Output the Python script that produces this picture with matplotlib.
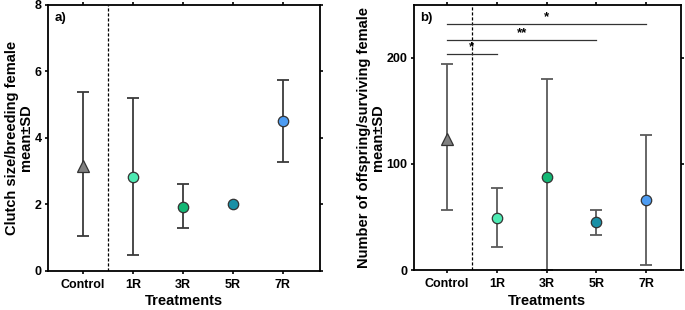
import numpy as np
import matplotlib
matplotlib.use("Agg")
import matplotlib.pyplot as plt

plt.rcParams['font.family'] = ['Liberation Sans', 'DejaVu Sans']
plt.rcParams['font.weight'] = 'bold'

groups = ["Control", "1R", "3R", "5R", "7R"]
colors = ["#808080", "#4deab2", "#12b774", "#1a90a6", "#4d9cf2"]

# panel a: clutch size per breeding female
clutch_mean = [3.15, 2.83, 1.93, 2.0, 4.5]
clutch_lo = [1.03, 0.47, 1.28, 2.0, 3.28]
clutch_hi = [5.37, 5.2, 2.6, 2.0, 5.73]

# panel b: offspring per surviving female
offs_mean = [124, 49.5, 87.5, 45, 66]
offs_lo = [56.5, 22, 0, 33, 5]
offs_hi = [194, 77, 180, 57, 127]

# significance brackets (from Control to group index, y, label)
sig_to = [4, 3, 1]
sig_y = [232, 217, 203.5]
sig_txt = ["*", "**", "*"]

fig = plt.figure(figsize=(6.85, 3.1), dpi=100)
ax1 = fig.add_axes([0.070, 0.127, 0.397, 0.857])
ax2 = fig.add_axes([0.604, 0.129, 0.390, 0.855])


def draw(ax, mean, lo, hi, errc):
    x = np.arange(len(groups))
    for i in range(len(groups)):
        if hi[i] > lo[i]:
            ax.errorbar(x[i], mean[i], yerr=[[mean[i] - lo[i]], [hi[i] - mean[i]]],
                        fmt='none', ecolor=errc, elinewidth=1.3, capsize=4.5,
                        capthick=1.3, zorder=2)
        mk = '^' if i == 0 else 'o'
        ax.plot(x[i], mean[i], marker=mk, markersize=9 if i == 0 else 7.5,
                color=colors[i], markeredgecolor='#333333', markeredgewidth=0.9,
                linestyle='none', zorder=3)
    ax.axvline(0.5, color='black', linestyle=(0, (2.5, 1.5)), linewidth=0.9, zorder=1)
    ax.set_xticks(x)
    ax.set_xticklabels(groups, fontsize=9, fontweight='bold')
    ax.set_xlabel("Treatments", fontsize=10.5, fontweight='bold', labelpad=2.5)
    ax.tick_params(axis='both', direction='out', length=2.5, width=1.2,
                   top=True, right=True, labelsize=9, pad=2)
    ax.tick_params(axis='x', pad=3.5)
    for s in ax.spines.values():
        s.set_linewidth(1.3)


draw(ax1, clutch_mean, clutch_lo, clutch_hi, '#3a3a3a')
ax1.set_xlim(-0.7, 4.74)
ax1.set_ylim(0, 8)
ax1.set_yticks([0, 2, 4, 6, 8])
ax1.set_ylabel("Clutch size/breeding female\nmean±SD", fontsize=10.5, fontweight='bold',
               linespacing=1.0, labelpad=1)
ax1.text(0.025, 0.975, "a)", transform=ax1.transAxes, ha='left', va='top',
         fontsize=9.5, fontweight='bold')

draw(ax2, offs_mean, offs_lo, offs_hi, '#5a5a5a')
ax2.set_xlim(-0.67, 4.7)
ax2.set_ylim(0, 250)
ax2.set_yticks([0, 100, 200])
ax2.set_ylabel("Number of offspring/surviving female\nmean±SD", fontsize=10.5,
               fontweight='bold', linespacing=1.0, labelpad=1)
ax2.text(0.025, 0.975, "b)", transform=ax2.transAxes, ha='left', va='top',
         fontsize=9.5, fontweight='bold')
for j, y, t in zip(sig_to, sig_y, sig_txt):
    ax2.plot([0, j], [y, y], color='#333333', linewidth=0.9, zorder=1)
    ax2.text(j / 2, y + 1, t, ha='center', va='bottom', fontsize=9.5, fontweight='bold')

fig.savefig("out.png", dpi=100)
